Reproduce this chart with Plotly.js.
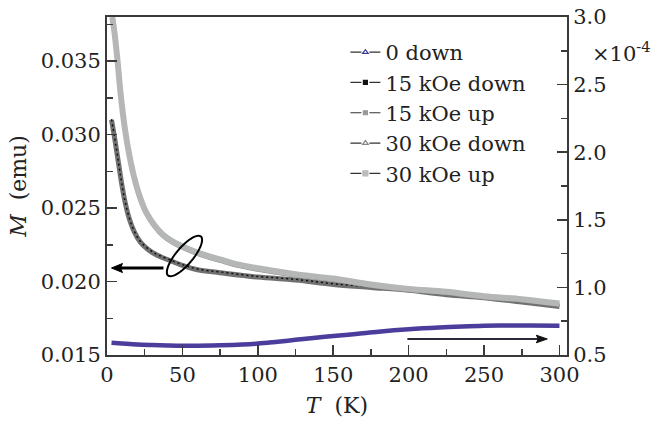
<!DOCTYPE html>
<html>
<head>
<meta charset="utf-8">
<script src="https://cdn.plot.ly/plotly-3.0.1.min.js"></script>
<style>html,body{margin:0;padding:0;background:#fff;}#chart{width:662px;height:421px;}</style>
</head>
<body>
<div id="chart"></div>
<script>
// ---- data ----
const seriesNames = ["0 down", "15 kOe down", "15 kOe up", "30 kOe down", "30 kOe up"];

// 0 Oe, cooling (right axis, units of 1e-4 emu)
const T_0down = [3, 10, 20, 30, 40, 50, 60, 75, 90, 100, 110, 125, 140, 150, 165, 180, 200, 220, 240, 250, 260, 280, 300];
const M_0down = [0.590, 0.585, 0.578, 0.574, 0.571, 0.569, 0.569, 0.572, 0.578, 0.585, 0.595, 0.612, 0.630, 0.640, 0.655, 0.672, 0.690, 0.703, 0.712, 0.716, 0.718, 0.718, 0.716];

// 15 kOe (left axis, emu)
const T_15 = [3, 5, 8, 10, 12, 15, 18, 22, 27, 33, 40, 50, 60, 75, 100, 125, 150, 175, 200, 225, 250, 275, 300];
const M_15down = [0.03105, 0.02985, 0.02785, 0.02655, 0.02545, 0.02425, 0.02345, 0.02275, 0.02225, 0.02185, 0.02155, 0.02115, 0.02085, 0.02065, 0.02035, 0.02015, 0.01985, 0.01965, 0.01945, 0.01915, 0.01895, 0.01865, 0.01835];
const M_15up   = [0.0310, 0.0298, 0.0278, 0.0265, 0.0254, 0.0242, 0.0234, 0.0227, 0.0222, 0.0218, 0.0215, 0.0211, 0.0208, 0.0206, 0.0203, 0.0201, 0.0198, 0.0196, 0.0194, 0.0191, 0.0189, 0.0186, 0.0183];

// 30 kOe (left axis, emu)
const T_30 = [3.5, 5, 7, 9, 12, 15, 18, 22, 26, 31, 37, 44, 52, 62, 75, 85, 100, 125, 150, 175, 200, 225, 250, 275, 300];
const M_30down = [0.0379, 0.0368, 0.0349, 0.0327, 0.0302, 0.0284, 0.0270, 0.0256, 0.0246, 0.0238, 0.0231, 0.0226, 0.0222, 0.0218, 0.0214, 0.0211, 0.0208, 0.0204, 0.0201, 0.0197, 0.0194, 0.0192, 0.0189, 0.0187, 0.0184];
const M_30up   = [0.0380, 0.0369, 0.0350, 0.0328, 0.0303, 0.0285, 0.0271, 0.0257, 0.0247, 0.0239, 0.0232, 0.0227, 0.0223, 0.0219, 0.0215, 0.0212, 0.0209, 0.0205, 0.0202, 0.0198, 0.0195, 0.0193, 0.0190, 0.0188, 0.0185];

const xTicks = [0, 50, 100, 150, 200, 250, 300];
const yTicks = [0.015, 0.020, 0.025, 0.030, 0.035];
const y2Ticks = [0.5, 1.0, 1.5, 2.0, 2.5, 3.0];

// ---- layout geometry ----
const W = 662, H = 421;
const L = 106.5, R = 95.3, TOP = 17, B = 66;
const PW = W - L - R, PH = H - TOP - B;
const px2x = p => (p - L) / PW;
const py2y = p => (H - B - p) / PH;

const FONT = "DejaVu Serif";
const axisCol = "#3a3a3a";

// decorations built in paper coords
function ellipsePath(cx, cy, a, b, angDeg) {
  const th = angDeg * Math.PI / 180;
  let d = "";
  for (let i = 0; i <= 48; i++) {
    const t = i / 48 * 2 * Math.PI;
    const ex = a * Math.cos(t), ey = b * Math.sin(t);
    const X = cx + ex * Math.cos(th) - ey * Math.sin(th);
    const Y = cy + ex * Math.sin(th) + ey * Math.cos(th);
    d += (i === 0 ? "M" : "L") + px2x(X).toFixed(5) + "," + py2y(Y).toFixed(5);
  }
  return d + "Z";
}
function headPath(tipX, y, dir, len, half) {
  const bx = tipX - dir * len;
  return "M" + px2x(tipX).toFixed(5) + "," + py2y(y).toFixed(5) +
         "L" + px2x(bx).toFixed(5) + "," + py2y(y - half).toFixed(5) +
         "L" + px2x(bx + dir * 2).toFixed(5) + "," + py2y(y).toFixed(5) +
         "L" + px2x(bx).toFixed(5) + "," + py2y(y + half).toFixed(5) + "Z";
}

const traces = [
  {x: T_15, y: M_15up, mode: "lines", line: {color: "#707070", width: 5, shape: "spline", smoothing: 1}, showlegend: false, hoverinfo: "skip"},
  {x: T_15, y: M_15down, mode: "lines", line: {color: "#111", width: 1.5, dash: "2px,3px", shape: "spline", smoothing: 1}, showlegend: false, hoverinfo: "skip"},
  {x: T_30, y: M_30down, mode: "lines", line: {color: "#8e8e8e", width: 4, shape: "spline", smoothing: 1}, showlegend: false, hoverinfo: "skip"},
  {x: T_30, y: M_30up, mode: "lines", line: {color: "#b5b7b7", width: 6, shape: "spline", smoothing: 1}, showlegend: false, hoverinfo: "skip"},
  {x: T_0down, y: M_0down, yaxis: "y2", mode: "lines", line: {color: "#4a3d9b", width: 4.5, shape: "spline", smoothing: 1}, showlegend: false, hoverinfo: "skip"}
];

// legend entries
const legendMarkers = [
  {symbol: "triangle-up-open", color: "#3b3b9b", size: 5},
  {symbol: "square", color: "#111", size: 4},
  {symbol: "square", color: "#999", size: 4},
  {symbol: "triangle-up-open", color: "#888", size: 5},
  {symbol: "square", color: "#bbb", size: 5}
];
seriesNames.forEach((n, i) => {
  traces.push({
    x: [null], y: [null], name: n, mode: "lines+markers",
    line: {color: "#333", width: 1.2, dash: "11px,8px,11px"},
    marker: {symbol: legendMarkers[i].symbol, color: legendMarkers[i].color, size: legendMarkers[i].size,
             line: {color: legendMarkers[i].color, width: 1.2}}
  });
});

const tickFont = {family: FONT, size: 21, color: "#222"};
const NB = "\u00a0";

const layout = {
  width: W, height: H,
  margin: {l: L, r: R, t: TOP, b: B, pad: 0},
  paper_bgcolor: "#fff", plot_bgcolor: "#fff",
  font: {family: FONT, color: "#222"},
  showlegend: true,
  legend: {x: px2x(345), y: py2y(32), xanchor: "left", yanchor: "top",
           bgcolor: "rgba(0,0,0,0)", font: {family: FONT, size: 21, color: "#222"}},
  xaxis: {
    range: [0, 305], tickvals: xTicks, ticks: "inside", ticklen: 10, tickwidth: 1.5, tickcolor: axisCol,
    showline: true, linecolor: axisCol, linewidth: 2, mirror: true, showgrid: false, zeroline: false,
    tickfont: tickFont,
    minor: {dtick: 25, ticks: "inside", ticklen: 6, tickwidth: 1.5, tickcolor: axisCol, showgrid: false},
    title: {text: "<i>T</i>  (K)", font: {family: FONT, size: 22, color: "#222"}, standoff: 11}
  },
  yaxis: {
    range: [0.015, 0.038], tickvals: yTicks, ticktext: yTicks.map(v => v.toFixed(3)),
    ticks: "inside", ticklen: 10, tickwidth: 1.5, tickcolor: axisCol,
    showline: true, linecolor: axisCol, linewidth: 2, showgrid: false, zeroline: false,
    tickfont: tickFont,
    minor: {dtick: 0.0025, tick0: 0.015, ticks: "inside", ticklen: 6, tickwidth: 1.5, tickcolor: axisCol, showgrid: false},
    title: {text: "<i>M</i>  (emu)" + NB + NB + NB + NB, font: {family: FONT, size: 22, color: "#222"}, standoff: 8}
  },
  yaxis2: {
    overlaying: "y", side: "right", range: [0.5, 3.0], tickvals: y2Ticks, ticktext: y2Ticks.map(v => v.toFixed(1)),
    ticks: "inside", ticklen: 10, tickwidth: 1.5, tickcolor: axisCol,
    showline: true, linecolor: axisCol, linewidth: 2, showgrid: false, zeroline: false,
    tickfont: tickFont,
    minor: {dtick: 0.25, tick0: 0.5, ticks: "inside", ticklen: 6, tickwidth: 1.5, tickcolor: axisCol, showgrid: false}
  },
  annotations: [
    {xref: "paper", yref: "paper", x: px2x(590), y: py2y(52), text: "×10<sup>-4</sup>",
     showarrow: false, font: {family: FONT, size: 21, color: "#222"}, xanchor: "left", yanchor: "middle"}
  ],
  shapes: [
    {type: "path", xref: "paper", yref: "paper", path: ellipsePath(184, 256, 25.5, 8.5, -50),
     line: {color: "#000", width: 2}, fillcolor: "rgba(0,0,0,0)"},
    {type: "line", xref: "paper", yref: "paper", x0: px2x(119), x1: px2x(163), y0: py2y(268), y1: py2y(268),
     line: {color: "#000", width: 3}},
    {type: "path", xref: "paper", yref: "paper", path: headPath(111, 268, -1, 11, 4.5),
     line: {color: "#000", width: 1}, fillcolor: "#000"},
    {type: "line", xref: "paper", yref: "paper", x0: px2x(407), x1: px2x(538), y0: py2y(339), y1: py2y(339),
     line: {color: "#2a2a38", width: 2}},
    {type: "path", xref: "paper", yref: "paper", path: headPath(547, 339, 1, 11, 3.8),
     line: {color: "#111", width: 1}, fillcolor: "#111"}
  ]
};

Plotly.newPlot("chart", traces, layout, {staticPlot: true, displayModeBar: false});
</script>
</body>
</html>
